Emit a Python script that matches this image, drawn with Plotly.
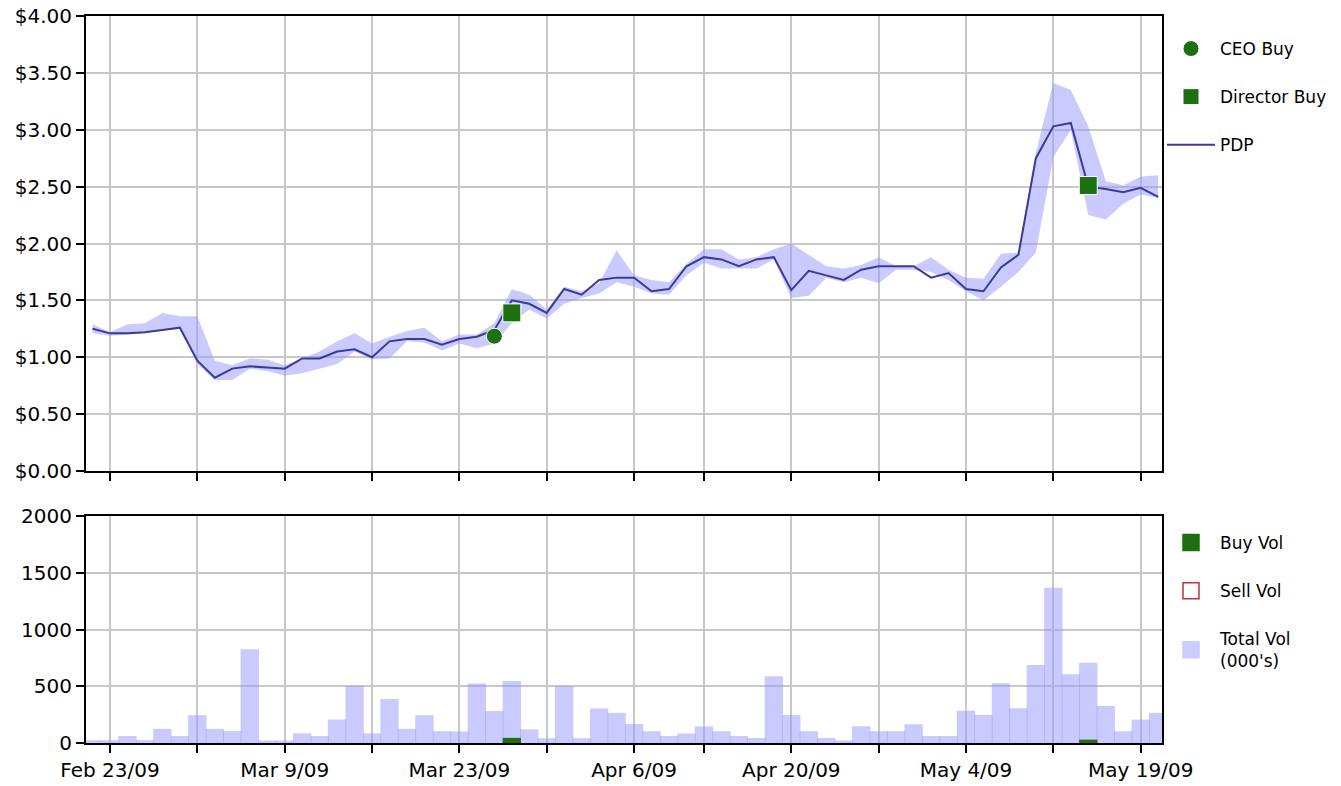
import plotly.graph_objects as go

# ---------------- data ----------------
dates = [
    "2009-02-20",
    "2009-02-23", "2009-02-24", "2009-02-25", "2009-02-26", "2009-02-27",
    "2009-03-02", "2009-03-03", "2009-03-04", "2009-03-05", "2009-03-06",
    "2009-03-09", "2009-03-10", "2009-03-11", "2009-03-12", "2009-03-13",
    "2009-03-16", "2009-03-17", "2009-03-18", "2009-03-19", "2009-03-20",
    "2009-03-23", "2009-03-24", "2009-03-25", "2009-03-26", "2009-03-27",
    "2009-03-30", "2009-03-31", "2009-04-01", "2009-04-02", "2009-04-03",
    "2009-04-06", "2009-04-07", "2009-04-08", "2009-04-09",
    "2009-04-13", "2009-04-14", "2009-04-15", "2009-04-16", "2009-04-17",
    "2009-04-20", "2009-04-21", "2009-04-22", "2009-04-23", "2009-04-24",
    "2009-04-27", "2009-04-28", "2009-04-29", "2009-04-30", "2009-05-01",
    "2009-05-04", "2009-05-05", "2009-05-06", "2009-05-07", "2009-05-08",
    "2009-05-11", "2009-05-12", "2009-05-13", "2009-05-14", "2009-05-15",
    "2009-05-19", "2009-05-20",
]

close = [
    1.25,
    1.21, 1.21, 1.22, 1.24, 1.26,
    0.97, 0.82, 0.90, 0.92, 0.91,
    0.90, 0.99, 0.99, 1.05, 1.07,
    1.00, 1.14, 1.16, 1.16, 1.11,
    1.16, 1.18, 1.24, 1.50, 1.47,
    1.39, 1.60, 1.55, 1.68, 1.70,
    1.70, 1.58, 1.60, 1.80,
    1.88, 1.86, 1.80, 1.86, 1.88,
    1.59, 1.76, 1.72, 1.68, 1.77,
    1.80, 1.80, 1.80, 1.70, 1.74,
    1.60, 1.58, 1.79, 1.90, 2.75,
    3.03, 3.06, 2.50, 2.48, 2.45,
    2.49, 2.41,
]

high = [
    1.29,
    1.22, 1.29, 1.30, 1.39, 1.36,
    1.36, 0.97, 0.93, 0.99, 0.98,
    0.93, 0.99, 1.05, 1.14, 1.21,
    1.12, 1.18, 1.23, 1.26, 1.14,
    1.20, 1.20, 1.30, 1.60, 1.55,
    1.42, 1.62, 1.58, 1.65, 1.94,
    1.72, 1.68, 1.66, 1.82,
    1.95, 1.95, 1.86, 1.88, 1.95,
    2.00, 1.90, 1.80, 1.78, 1.81,
    1.88, 1.80, 1.80, 1.88, 1.77,
    1.70, 1.69, 1.91, 1.92, 2.80,
    3.41, 3.35, 3.03, 2.55, 2.51,
    2.59, 2.60,
]

low = [
    1.21,
    1.19, 1.20, 1.21, 1.24, 1.25,
    0.94, 0.80, 0.80, 0.90, 0.88,
    0.84, 0.86, 0.90, 0.94, 1.05,
    0.98, 0.99, 1.14, 1.13, 1.06,
    1.12, 1.08, 1.12, 1.30, 1.42,
    1.34, 1.47, 1.52, 1.56, 1.66,
    1.62, 1.56, 1.55, 1.72,
    1.83, 1.78, 1.78, 1.78, 1.86,
    1.52, 1.54, 1.70, 1.66, 1.70,
    1.65, 1.77, 1.77, 1.75, 1.68,
    1.58, 1.50, 1.62, 1.75, 1.92,
    2.76, 3.00, 2.25, 2.21, 2.35,
    2.43, 2.40,
]

volume = [
    25,
    25, 62, 25, 125, 62,
    245, 125, 105, 826, 22,
    22, 85, 62, 207, 502,
    85, 387, 125, 245, 104,
    102, 524, 283, 547, 120,
    42, 503, 42, 305, 265,
    167, 104, 62, 83,
    146, 104, 62, 44, 588,
    246, 104, 44, 22, 147,
    104, 104, 165, 62, 62,
    285, 247, 526, 306, 688,
    1368, 606, 706, 326, 103,
    206, 265,
]

ceo_dates = ["2009-03-25"]
ceo_price = [1.185]
director_dates = ["2009-03-26", "2009-05-13"]
director_price = [1.39, 2.51]
buy_dates = ["2009-03-26", "2009-05-13"]
buy_vol = [45, 30]

grid_dates = ["2009-02-23", "2009-03-02", "2009-03-09", "2009-03-16", "2009-03-23",
              "2009-03-30", "2009-04-06", "2009-04-13", "2009-04-20", "2009-04-27",
              "2009-05-04", "2009-05-11", "2009-05-19"]
grid_labels = ["Feb 23/09", "", "Mar 9/09", "", "Mar 23/09", "", "Apr 6/09", "",
               "Apr 20/09", "", "May 4/09", "", "May 19/09"]
price_ticks = [0, 0.5, 1.0, 1.5, 2.0, 2.5, 3.0, 3.5, 4.0]
price_labels = ["$0.00", "$0.50", "$1.00", "$1.50", "$2.00", "$2.50", "$3.00",
                "$3.50", "$4.00"]
vol_ticks = [0, 500, 1000, 1500, 2000]

# ---------------- style ----------------
GREEN = "#1d7010"
BAND = "rgba(150,150,255,0.5)"
LINE = "#3b3b96"
GRID = "#c8c8c8"
FONT = "DejaVu Sans"

fig = go.Figure()

# price band (low / high)
fig.add_trace(go.Scatter(x=dates, y=low, mode="lines", line=dict(width=0, color=BAND),
                         showlegend=False, hoverinfo="skip", xaxis="x", yaxis="y"))
fig.add_trace(go.Scatter(x=dates, y=high, mode="lines", line=dict(width=0, color=BAND),
                         fill="tonexty", fillcolor=BAND, showlegend=False,
                         hoverinfo="skip", xaxis="x", yaxis="y"))
# close line
fig.add_trace(go.Scatter(x=dates, y=close, mode="lines", name="PDP",
                         line=dict(color=LINE, width=2), xaxis="x", yaxis="y",
                         legend="legend", legendgroup="pdp", legendrank=3))
fig.add_trace(go.Scatter(x=ceo_dates, y=ceo_price, mode="markers", name="CEO Buy",
                         marker=dict(symbol="circle", size=16, color=GREEN,
                                     line=dict(color="white", width=1)),
                         xaxis="x", yaxis="y", legend="legend", legendgroup="ceo",
                         legendrank=1))
fig.add_trace(go.Scatter(x=director_dates, y=director_price, mode="markers",
                         name="Director Buy",
                         marker=dict(symbol="square", size=18, color=GREEN,
                                     line=dict(color="white", width=1)),
                         xaxis="x", yaxis="y", legend="legend", legendgroup="dir",
                         legendrank=2))

# volume bars
fig.add_trace(go.Bar(x=dates, y=volume, name="Total Vol", width=1.05,
                     marker=dict(color=BAND, line=dict(width=0)), showlegend=False,
                     xaxis="x2", yaxis="y2"))
fig.add_trace(go.Bar(x=buy_dates, y=buy_vol, name="Buy Vol", width=1.05,
                     marker=dict(color=GREEN, line=dict(width=0)), showlegend=False,
                     xaxis="x2", yaxis="y2"))

# volume legend entries
for name, fillc, linec, rank in [("Buy Vol", GREEN, GREEN, 1),
                                 ("Sell Vol", "white", "#c0303a", 2),
                                 ("Total Vol<br>(000's)", "#ccccff", "#ccccff", 3)]:
    fig.add_trace(go.Scatter(x=[None], y=[None], mode="markers", name=name,
                             marker=dict(symbol="square", size=16, color=fillc,
                                         line=dict(color=linec, width=1.5)),
                             xaxis="x2", yaxis="y2", legend="legend2",
                             legendgroup=name, legendrank=rank))

W, H = 1341, 786
ML, MR, MT, MB = 86, 179, 16, 43
ph = H - MT - MB
top_dom = [(H - MB - 471) / ph, 1.0]
bot_dom = [0.0, (H - MB - 516) / ph]
xr = [-0.374, 61.22]

axis_common = dict(showline=True, linecolor="black", linewidth=2, mirror=True,
                   ticks="outside", tickcolor="black", tickwidth=2, ticklen=8,
                   showgrid=True, gridcolor=GRID, gridwidth=2, zeroline=False,
                   automargin=False)

fig.update_layout(
    width=W, height=H,
    margin=dict(l=ML, r=MR, t=MT, b=MB, pad=0, autoexpand=False),
    paper_bgcolor="white", plot_bgcolor="white",
    font=dict(family=FONT, size=20, color="black"),
    barmode="overlay",
    xaxis=dict(type="category", categoryorder="array", categoryarray=dates,
               range=xr, domain=[0, 1], anchor="y", tickvals=grid_dates,
               showticklabels=False, **axis_common),
    yaxis=dict(domain=top_dom, range=[0, 4], tickvals=price_ticks,
               ticktext=price_labels, anchor="x", **axis_common),
    xaxis2=dict(type="category", categoryorder="array", categoryarray=dates,
                range=xr, domain=[0, 1], anchor="y2", tickvals=grid_dates,
                ticktext=grid_labels, tickangle=0, **axis_common),
    yaxis2=dict(domain=bot_dom, range=[0, 2000], tickvals=vol_ticks, anchor="x2",
                **axis_common),
    legend=dict(x=(1162 - ML) / (W - ML - MR), xanchor="left",
                y=(H - MB - 31) / ph, yanchor="top",
                font=dict(family=FONT, size=17, color="black"),
                tracegroupgap=23, itemwidth=48, bgcolor="rgba(0,0,0,0)"),
    legend2=dict(x=(1162 - ML) / (W - ML - MR), xanchor="left",
                 y=(H - MB - 525) / ph, yanchor="top",
                 font=dict(family=FONT, size=17, color="black"),
                 tracegroupgap=23, itemwidth=48, bgcolor="rgba(0,0,0,0)"),
    showlegend=True,
)

fig.write_html("out.html", config={"displayModeBar": False},
               post_script="document.body.style.margin='0px';")
